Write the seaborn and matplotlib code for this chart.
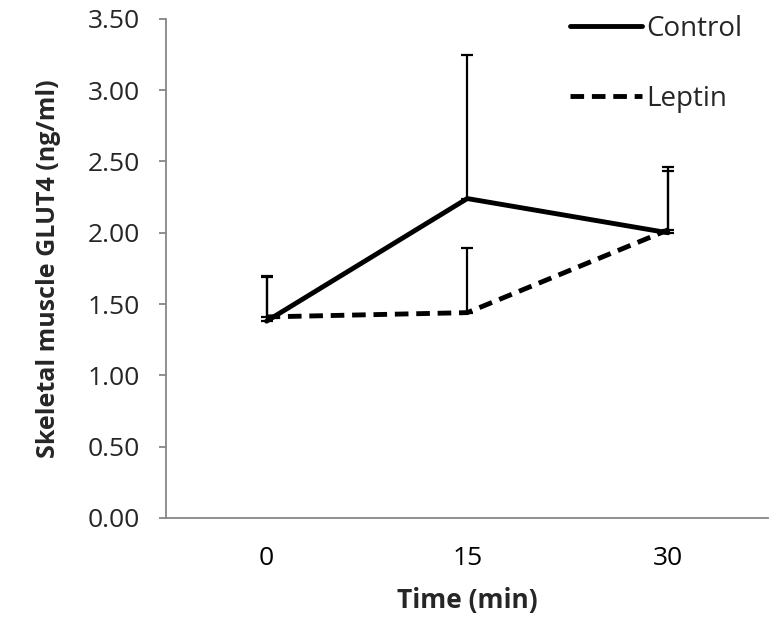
import matplotlib
matplotlib.use('Agg')
import matplotlib.pyplot as plt
import seaborn as sns
import pandas as pd
import numpy as np
from matplotlib.ticker import FixedLocator, FormatStrFormatter

# values
time_labels = ['0', '15', '30']
control_mean = [1.38, 2.24, 2.00]
control_err = [0.32, 1.01, 0.46]
leptin_mean = [1.41, 1.44, 2.02]
leptin_err = [0.28, 0.45, 0.41]
y_ticks = [0.0, 0.5, 1.0, 1.5, 2.0, 2.5, 3.0, 3.5]

sns.set_theme(style='white')
plt.rcParams['font.family'] = ['Open Sans', 'DejaVu Sans']

df = pd.DataFrame({
    'pos': list(range(len(time_labels))) * 2,
    'value': control_mean + leptin_mean,
    'group': ['Control'] * 3 + ['Leptin'] * 3,
})

fig = plt.figure(figsize=(7.84, 6.29), dpi=100)
ax = fig.add_axes([0.212, 0.1765, 0.768, 0.7935])

grey = '#868686'

sns.lineplot(data=df, x='pos', y='value', style='group', color='black',
             dashes={'Control': '', 'Leptin': (2.8, 1.6)}, linewidth=3.5,
             ax=ax, legend=False)

x = np.arange(len(time_labels))
for means, errs in [(control_mean, control_err), (leptin_mean, leptin_err)]:
    ax.errorbar(x, means, yerr=[np.zeros(len(errs)), errs], fmt='none',
                ecolor='black', elinewidth=1.6, capsize=4.5, capthick=1.6)

ax.set_xlim(-0.5, 2.5)
ax.set_ylim(0, 3.5)
ax.yaxis.set_major_locator(FixedLocator(y_ticks))
ax.yaxis.set_major_formatter(FormatStrFormatter('%.2f'))
ax.set_xticks(x)
ax.set_xticklabels(time_labels)
ax.set_xticks([-0.5, 0.5, 1.5, 2.5], minor=True)
ax.tick_params(axis='x', which='major', length=0, pad=20, labelsize=19, colors='black')
ax.tick_params(axis='x', which='minor', length=8, width=1.3, color=grey, direction='out')
ax.tick_params(axis='y', which='major', length=5, width=1.3, color=grey,
               direction='out', labelsize=19, left=True, pad=14)

for side in ['top', 'right']:
    ax.spines[side].set_visible(False)
for side in ['left', 'bottom']:
    ax.spines[side].set_color(grey)
    ax.spines[side].set_linewidth(1.3)

ax.set_xlabel('Time (min)', fontsize=19, fontweight='bold', labelpad=12)
ax.set_ylabel('Skeletal muscle GLUT4 (ng/ml)', fontsize=18, fontweight='bold', labelpad=19)

handles = [plt.Line2D([], [], color='black', lw=3.5),
           plt.Line2D([], [], color='black', lw=3.5, dashes=(2.8, 1.6))]
ax.legend(handles, ['Control', 'Leptin'], loc='upper right', frameon=False,
          fontsize=20, handlelength=2.6, handletextpad=0.15, labelspacing=1.5,
          bbox_to_anchor=(0.975, 1.03), borderaxespad=0)

fig.savefig('out.png', dpi=100)
